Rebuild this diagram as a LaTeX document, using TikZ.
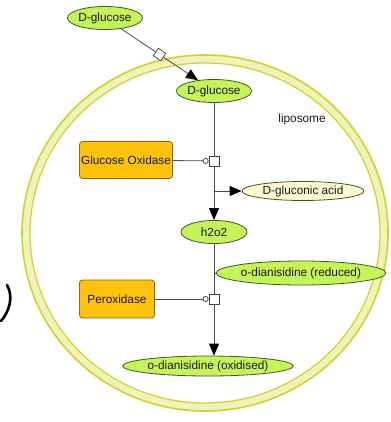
\documentclass[tikz,border=0pt]{standalone}
\usepackage{fontspec}
\setmainfont{Liberation Sans}
\usepackage{xcolor}
\usepackage{tikz}
\usetikzlibrary{positioning,arrows.meta,shapes.geometric}

\definecolor{speciesgreen}{HTML}{C6F25C}
\definecolor{speciesline}{HTML}{3D5A1E}
\definecolor{acidfill}{HTML}{FCFAD2}
\definecolor{enzymefill}{HTML}{FFC20E}
\definecolor{enzymeline}{HTML}{8A6410}
\definecolor{ringline}{HTML}{CDD234}
\definecolor{ringfill}{HTML}{F0F2B8}

\begin{document}
\begin{tikzpicture}[
        x=1pt, y=-1pt,
        every node/.style={font=\fontsize{11.8}{13}\selectfont, text=black!90},
        species/.style={
            draw=speciesline,
            line width=0.8pt,
            ellipse,
            fill=speciesgreen,
            inner sep=0pt,
            minimum width=66pt,
            minimum height=23pt
        },
        enzyme/.style={
            draw=enzymeline,
            line width=0.8pt,
            rectangle,
            rounded corners=3pt,
            fill=enzymefill,
            inner sep=0pt,
            minimum height=37pt
        },
        procbox/.style={
            draw=black!75,
            line width=0.7pt,
            fill=white,
            rectangle,
            inner sep=0pt,
            minimum size=10pt
        },
        link/.style={draw=black!70, line width=0.8pt},
        arrow/.style={link, -{Triangle[length=12pt,width=10pt,color=black]}},
        modif/.style={link, -{Circle[open,length=6pt,width=6pt]}}
    ]
        \useasboundingbox (0,0) rectangle (390,422);

        % liposome membrane
        \draw[ringline, line width=1.6pt, fill=ringfill] (205,233) ellipse [x radius=183, y radius=178];
        \draw[ringline, line width=1.2pt, fill=white] (205,233) ellipse [x radius=175, y radius=170];
        \draw[line width=2.6pt, line cap=round] (7,285) .. controls (14,297) and (9,312) .. (1,321);
        \node (lipo) at (302,119) {liposome};

        % species and enzymes
        \node[species] (glc_out) at (105,18) {D-glucose};
        \node[species] (glc_in) at (214,91) {D-glucose};
        \node[enzyme, minimum width=93pt] (gox) at (126,160) {Glucose Oxidase};
        \node[procbox] (proc1) at (214,161) {};
        \node[species, fill=acidfill, minimum width=122pt, minimum height=19pt] (gluc_acid) at (303,191) {D-gluconic acid};
        \node[species] (h2o2) at (214,232) {h2o2};
        \node[species, minimum width=132pt, minimum height=24pt] (odi_red) at (301,273) {o-dianisidine (reduced)};
        \node[enzyme, minimum width=75pt, minimum height=38pt] (perox) at (117,299) {Peroxidase};
        \node[procbox] (proc2) at (214,299) {};
        \node[species, minimum width=120pt, minimum height=20pt] (odi_ox) at (208,366) {o-dianisidine (oxidised)};

        \coordinate (branch1) at (214,191);
        \coordinate (branch2) at (214,273);

        % transport across membrane
        \draw[arrow] (glc_out) -- node[procbox, sloped, minimum size=9pt] (transp) {} (glc_in);

        % glucose oxidase step
        \draw[link] (glc_in) -- (proc1);
        \draw[arrow] (proc1) -- (h2o2);
        \draw[arrow] (branch1) -- (gluc_acid.west);
        \draw[modif] (gox) -- (proc1);

        % peroxidase step
        \draw[link] (h2o2) -- (proc2);
        \draw[link] (odi_red) -- (branch2);
        \draw[arrow] (proc2) -- (odi_ox.north -| proc2);
        \draw[modif] (perox) -- (proc2);

    \end{tikzpicture}
\end{document}
